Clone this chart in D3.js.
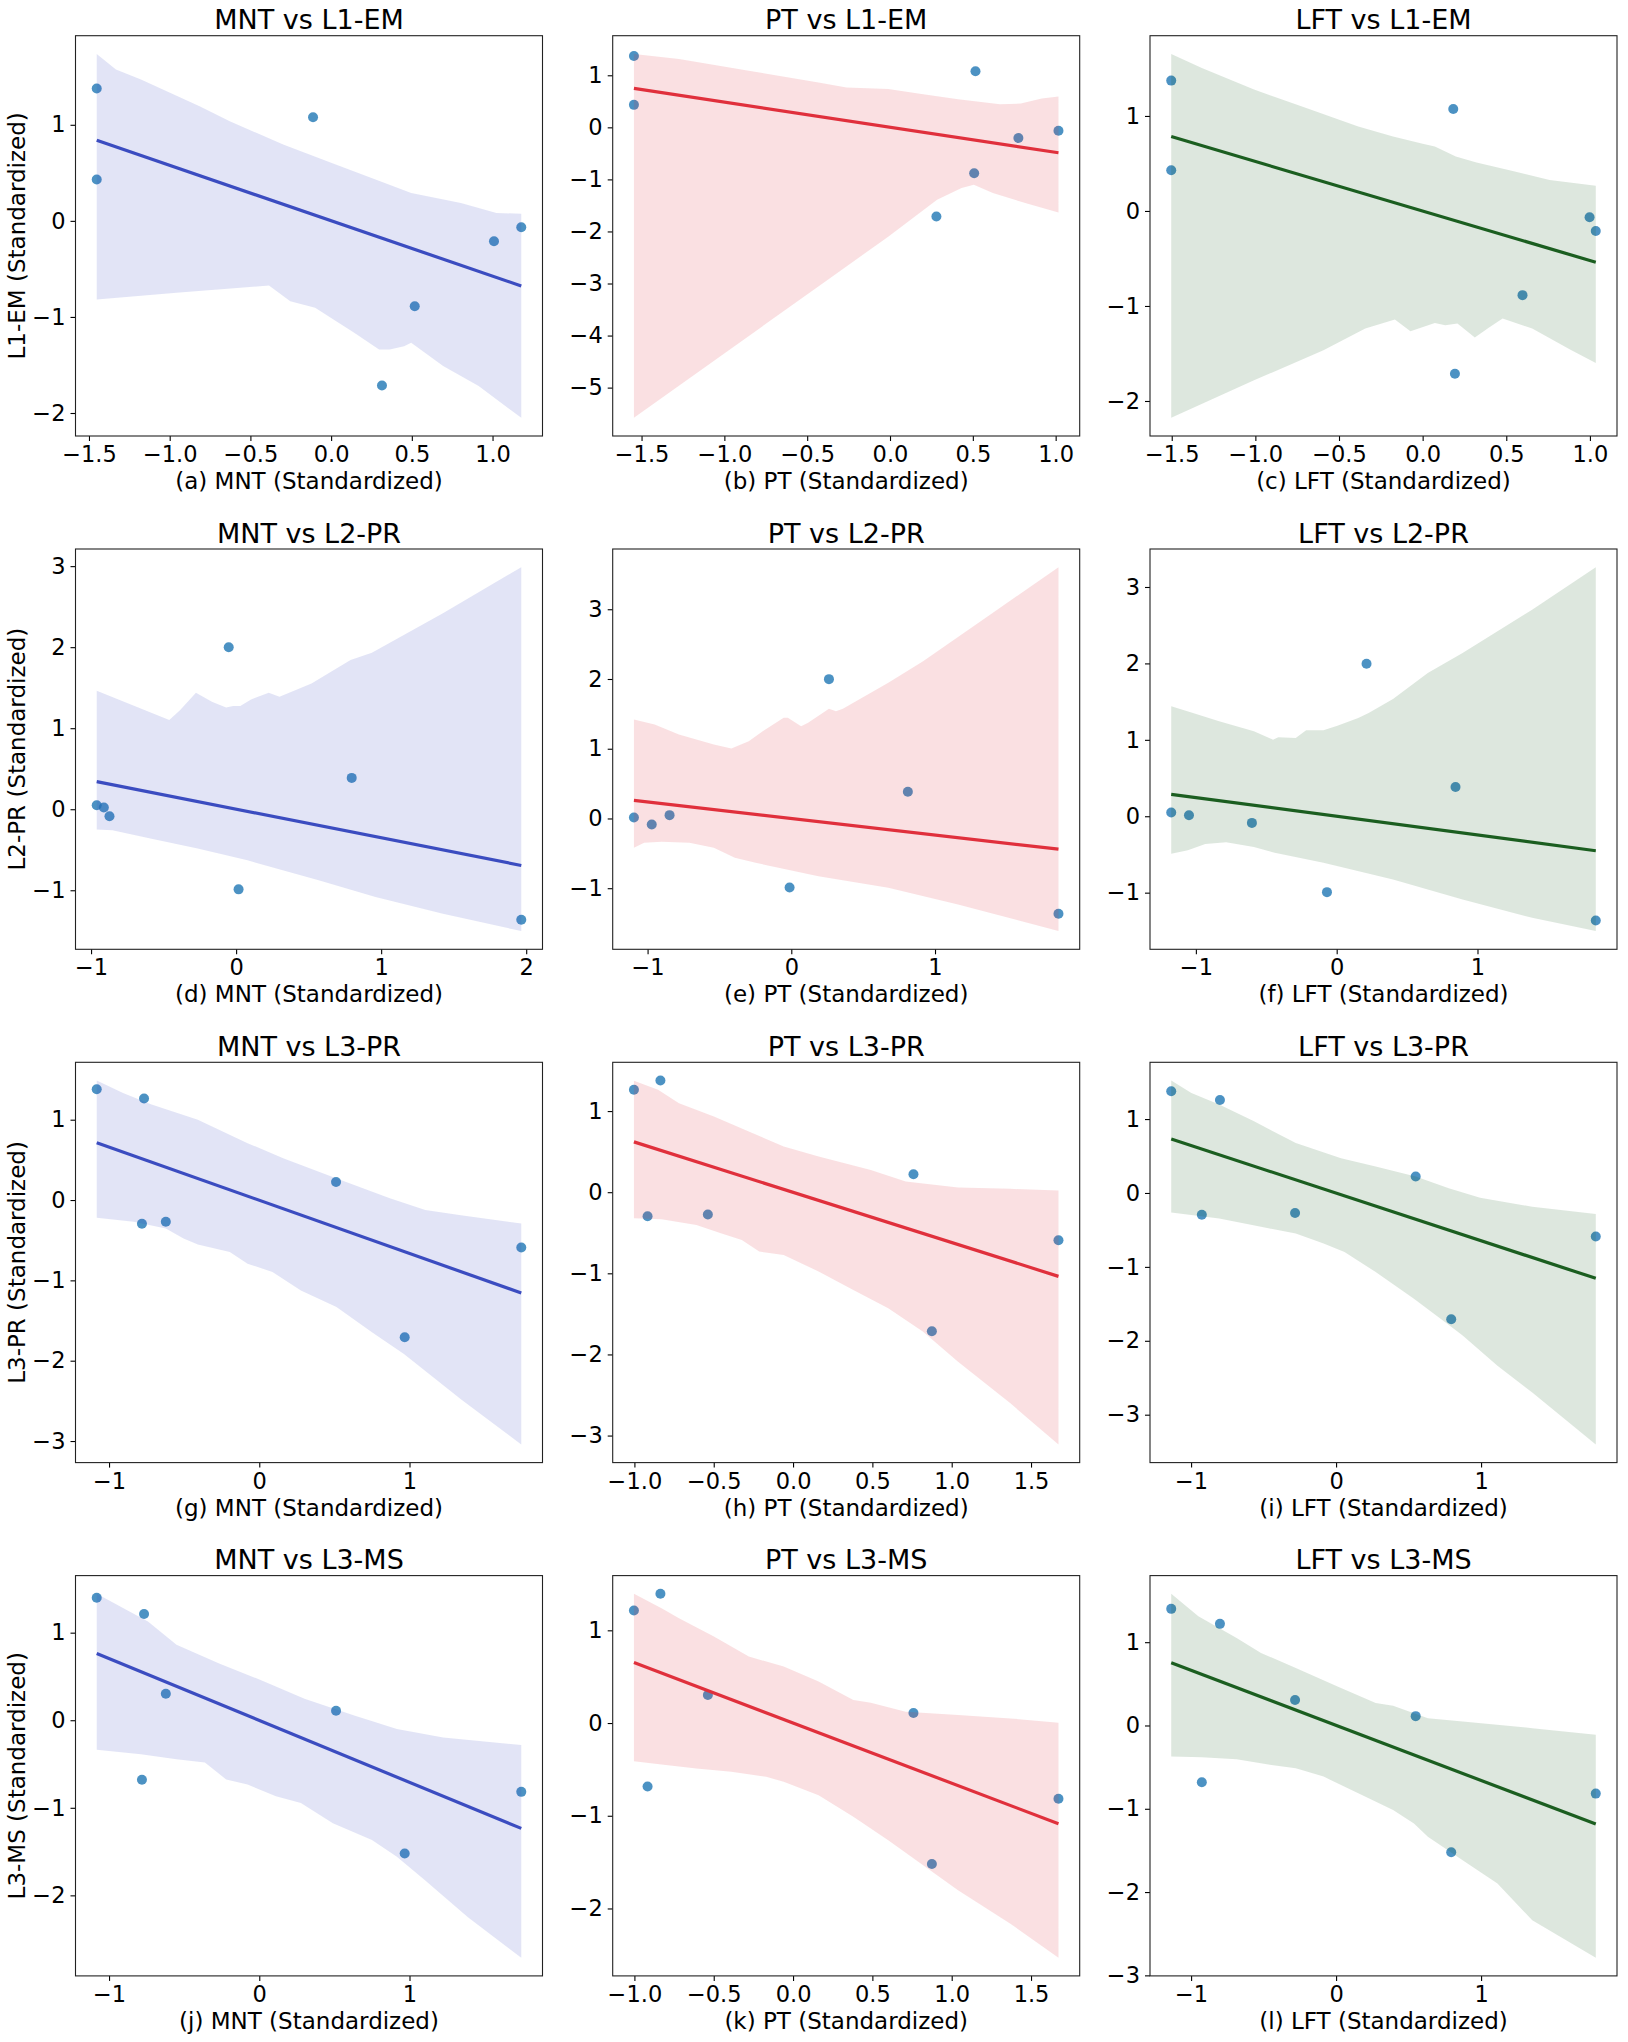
<!DOCTYPE html>
<html><head><meta charset="utf-8">
<script src="https://cdn.jsdelivr.net/npm/d3@7"></script>
<style>
body{margin:0;background:#fff}
svg{display:block}
text{font-family:"DejaVu Sans",sans-serif;fill:#000}
</style>
</head><body>
<svg id="chart" width="1628" height="2042"></svg>
<script>
// ---------- categories ----------
const xVars = ["MNT", "PT", "LFT"];
const yVars = ["L1-EM", "L2-PR", "L3-PR", "L3-MS"];
const letters = ["a","b","c","d","e","f","g","h","i","j","k","l"];
const lineColors = ["#3B4CC0", "#E0303C", "#1B5E20"];
const pointColor = "#1f77b4";

// ---------- scatter points (standardized), one list per panel a..l ----------
const pointX = [
  [-1.452, -1.452, -0.112, 0.315, 0.518, 1.009, 1.178],
  [-1.546, -1.546, 0.516, 0.280, 0.508, 0.775, 1.017],
  [-1.503, -1.503, 0.183, 0.193, 0.597, 0.998, 1.035],
  [-0.961, -0.912, -0.873, -0.051, 0.017, 0.797, 1.966],
  [-1.095, -0.971, -0.847, 0.262, -0.012, 0.811, 1.859],
  [-1.175, -1.049, -0.602, 0.212, -0.069, 0.844, 1.840],
  [-1.082, -0.767, -0.781, -0.622, 0.511, 0.968, 1.744],
  [-1.003, -0.836, -0.917, -0.537, 0.759, 0.875, 1.673],
  [-1.137, -0.801, -0.926, -0.283, 0.549, 0.794, 1.791],
  [-1.082, -0.767, -0.781, -0.622, 0.511, 0.968, 1.744],
  [-1.003, -0.836, -0.917, -0.537, 0.759, 0.875, 1.673],
  [-1.137, -0.801, -0.926, -0.283, 0.549, 0.794, 1.791]
];
const pointY = [
  [1.377, 0.430, 1.079, -1.713, -0.888, -0.212, -0.066],
  [1.372, 0.432, 1.076, -1.714, -0.883, -0.206, -0.064],
  [1.372, 0.429, 1.073, -1.713, -0.886, -0.067, -0.211],
  [0.049, 0.021, -0.087, 1.998, -0.989, 0.387, -1.364],
  [0.014, -0.086, 0.048, 1.998, -0.989, 0.382, -1.367],
  [0.048, 0.013, -0.087, 1.996, -0.993, 0.383, -1.364],
  [1.379, 1.263, -0.296, -0.271, 0.225, -1.708, -0.592],
  [1.262, 1.377, -0.296, -0.275, 0.222, -1.715, -0.592],
  [1.377, 1.259, -0.294, -0.272, 0.222, -1.708, -0.589],
  [1.398, 1.214, -0.680, 0.303, 0.108, -1.521, -0.818],
  [1.214, 1.394, -0.684, 0.302, 0.108, -1.520, -0.817],
  [1.400, 1.220, -0.682, 0.305, 0.112, -1.521, -0.818]
];

// ---------- bootstrap confidence band edges ----------
const bandHiX = [
  [-1.452, -1.333, -1.178, -0.815, -0.628, -0.297, 0, 0.275, 0.496, 0.804, 1.024, 1.178],
  [-1.546, -1.274, -0.853, -0.432, -0.263, -0.011, 0.200, 0.411, 0.664, 0.790, 0.916, 1.017],
  [-1.503, -1.320, -1.008, -0.696, -0.385, -0.177, 0, 0.073, 0.198, 0.322, 0.551, 0.759, 1.035],
  [-0.961, -0.461, -0.387, -0.277, -0.167, -0.069, -0.020, 0.029, 0.103, 0.225, 0.299, 0.520, 0.789, 0.936, 1.426, 1.966],
  [-1.095, -0.951, -0.782, -0.539, -0.417, -0.296, -0.199, -0.053, -0.024, 0.068, 0.117, 0.262, 0.311, 0.359, 0.675, 0.917, 1.403, 1.859],
  [-1.175, -1.032, -0.835, -0.588, -0.452, -0.415, -0.291, -0.217, -0.094, 0.005, 0.153, 0.227, 0.400, 0.647, 0.894, 1.388, 1.840],
  [-1.082, -0.907, -0.717, -0.409, -0.078, 0.159, 0.511, 0.869, 1.105, 1.342, 1.744],
  [-1.003, -0.851, -0.719, -0.499, -0.279, -0.059, 0.161, 0.490, 0.710, 1.040, 1.370, 1.673],
  [-1.137, -0.998, -0.806, -0.566, -0.278, 0.034, 0.273, 0.549, 0.777, 0.993, 1.353, 1.791],
  [-1.082, -0.907, -0.741, -0.551, -0.267, 0.040, 0.301, 0.632, 0.916, 1.224, 1.744],
  [-1.003, -0.829, -0.719, -0.499, -0.279, -0.059, 0.161, 0.380, 0.490, 0.710, 1.040, 1.370, 1.673],
  [-1.137, -0.950, -0.686, -0.518, -0.278, 0.010, 0.273, 0.393, 0.633, 0.873, 1.353, 1.791]
];
const bandHiY = [
  [1.738, 1.575, 1.471, 1.193, 1.037, 0.794, 0.604, 0.430, 0.291, 0.187, 0.083, 0.073],
  [1.411, 1.314, 1.089, 0.863, 0.767, 0.735, 0.638, 0.541, 0.445, 0.457, 0.554, 0.593],
  [1.653, 1.505, 1.277, 1.083, 0.890, 0.784, 0.707, 0.679, 0.573, 0.510, 0.415, 0.327, 0.264],
  [1.462, 1.100, 1.223, 1.438, 1.326, 1.256, 1.273, 1.273, 1.355, 1.438, 1.388, 1.553, 1.841, 1.932, 2.418, 2.987],
  [1.419, 1.348, 1.204, 1.061, 1.004, 1.109, 1.252, 1.443, 1.443, 1.324, 1.372, 1.572, 1.539, 1.572, 1.945, 2.256, 2.949, 3.603],
  [1.438, 1.359, 1.242, 1.111, 1.002, 1.033, 1.024, 1.124, 1.124, 1.185, 1.285, 1.351, 1.534, 1.874, 2.135, 2.702, 3.259],
  [1.488, 1.333, 1.188, 1.000, 0.708, 0.521, 0.271, 0.021, -0.125, -0.188, -0.292],
  [1.373, 1.262, 1.098, 0.933, 0.748, 0.563, 0.440, 0.275, 0.132, 0.058, 0.041, 0.021],
  [1.522, 1.354, 1.196, 0.969, 0.675, 0.471, 0.358, 0.222, 0.063, -0.063, -0.186, -0.285],
  [1.444, 1.283, 1.129, 0.861, 0.649, 0.438, 0.246, 0.054, -0.100, -0.196, -0.284],
  [1.394, 1.239, 1.131, 0.933, 0.717, 0.609, 0.447, 0.248, 0.220, 0.122, 0.086, 0.050, 0.004],
  [1.581, 1.312, 1.051, 0.871, 0.690, 0.469, 0.269, 0.237, 0.088, 0.048, -0.032, -0.112]
];
const bandLoX = [
  [-1.452, -0.958, -0.385, -0.253, -0.099, 0.143, 0.297, 0.363, 0.452, 0.496, 0.694, 0.914, 1.178],
  [-1.546, -0.369, -0.011, 0.284, 0.432, 0.506, 0.621, 0.832, 1.017],
  [-1.503, -1.008, -0.593, -0.343, -0.166, -0.073, 0.073, 0.135, 0.208, 0.312, 0.395, 0.478, 0.655, 0.884, 1.035],
  [-0.961, -0.853, -0.583, -0.265, 0.078, 0.569, 0.961, 1.426, 1.966],
  [-1.095, -1.024, -0.903, -0.709, -0.539, -0.393, -0.248, 0.189, 0.675, 1.160, 1.859],
  [-1.175, -1.057, -0.933, -0.785, -0.588, -0.440, -0.094, 0.400, 0.894, 1.388, 1.840],
  [-1.082, -0.836, -0.622, -0.504, -0.409, -0.196, -0.078, 0.088, 0.277, 0.514, 0.750, 0.963, 1.342, 1.744],
  [-1.003, -0.829, -0.609, -0.455, -0.323, -0.213, -0.059, 0.161, 0.380, 0.600, 0.820, 1.040, 1.370, 1.673],
  [-1.137, -0.806, -0.518, -0.278, -0.086, 0.058, 0.273, 0.537, 0.753, 0.873, 1.113, 1.353, 1.791],
  [-1.082, -0.788, -0.551, -0.362, -0.220, -0.078, 0.111, 0.277, 0.490, 0.750, 0.916, 1.105, 1.389, 1.744],
  [-1.003, -0.829, -0.609, -0.389, -0.169, -0.059, 0.161, 0.380, 0.600, 0.820, 1.040, 1.370, 1.673],
  [-1.137, -0.926, -0.686, -0.446, -0.278, -0.086, 0.153, 0.393, 0.537, 0.633, 0.873, 1.113, 1.353, 1.791]
];
const bandLoY = [
  [-0.819, -0.749, -0.673, -0.836, -0.905, -1.165, -1.339, -1.339, -1.304, -1.270, -1.512, -1.720, -2.050],
  [-5.580, -2.912, -2.101, -1.392, -1.166, -1.102, -1.263, -1.469, -1.637],
  [-2.177, -1.783, -1.467, -1.238, -1.143, -1.266, -1.178, -1.203, -1.185, -1.333, -1.228, -1.133, -1.238, -1.460, -1.600],
  [-0.251, -0.260, -0.363, -0.486, -0.630, -0.877, -1.083, -1.289, -1.504],
  [-0.421, -0.349, -0.335, -0.349, -0.421, -0.564, -0.636, -0.827, -0.994, -1.233, -1.615],
  [-0.492, -0.444, -0.362, -0.340, -0.401, -0.479, -0.610, -0.828, -1.089, -1.329, -1.503],
  [-0.221, -0.271, -0.354, -0.479, -0.554, -0.646, -0.792, -0.896, -1.125, -1.333, -1.646, -1.917, -2.479, -3.042],
  [-0.321, -0.333, -0.403, -0.506, -0.588, -0.732, -0.773, -0.979, -1.205, -1.431, -1.719, -2.089, -2.603, -3.109],
  [-0.263, -0.344, -0.458, -0.548, -0.684, -0.797, -1.069, -1.431, -1.749, -1.930, -2.337, -2.700, -3.402],
  [-0.338, -0.388, -0.446, -0.484, -0.676, -0.734, -0.868, -0.945, -1.176, -1.368, -1.560, -1.829, -2.251, -2.712],
  [-0.411, -0.447, -0.490, -0.526, -0.580, -0.634, -0.778, -1.012, -1.264, -1.534, -1.804, -2.164, -2.531],
  [-0.373, -0.381, -0.405, -0.473, -0.514, -0.614, -0.814, -1.015, -1.176, -1.336, -1.617, -1.898, -2.339, -2.788]
];

// ---------- tick values ----------
const xTicks = [
  [-1.5, -1.0, -0.5, 0.0, 0.5, 1.0],
  [-1.5, -1.0, -0.5, 0.0, 0.5, 1.0],
  [-1.5, -1.0, -0.5, 0.0, 0.5, 1.0],
  [-1, 0, 1, 2],
  [-1, 0, 1],
  [-1, 0, 1],
  [-1, 0, 1],
  [-1.0, -0.5, 0.0, 0.5, 1.0, 1.5],
  [-1, 0, 1],
  [-1, 0, 1],
  [-1.0, -0.5, 0.0, 0.5, 1.0, 1.5],
  [-1, 0, 1]
];
const yTicks = [
  [-2, -1, 0, 1],
  [-5, -4, -3, -2, -1, 0, 1],
  [-2, -1, 0, 1],
  [-1, 0, 1, 2, 3],
  [-1, 0, 1, 2, 3],
  [-1, 0, 1, 2, 3],
  [-3, -2, -1, 0, 1],
  [-3, -2, -1, 0, 1],
  [-3, -2, -1, 0, 1],
  [-2, -1, 0, 1],
  [-2, -1, 0, 1],
  [-3, -2, -1, 0, 1]
];

// ---------- layout ----------
const colLeft = [75.5, 612.7, 1150];
const panelW = 467;
const rowTop0 = 35.7, rowStep = 513.3, panelH = 400.3;

const svg = d3.select("#chart");
const minus = s => s.replace(/-/g, "\u2212");

function fmtFor(ticks) {
  const dec = ticks.some(t => Math.abs(t - Math.round(t)) > 1e-9);
  const f = dec ? d3.format(".1f") : d3.format("d");
  return v => minus(f(v));
}

function pad(ext) {
  const s = ext[1] - ext[0];
  return [ext[0] - 0.05 * s, ext[1] + 0.05 * s];
}

for (let p = 0; p < 12; p++) {
  const r = Math.floor(p / 3), c = p % 3;
  const left = colLeft[c], top = rowTop0 + r * rowStep;
  const color = lineColors[c];
  const pts = pointX[p].map((x, i) => ({x, y: pointY[p][i]}));
  const hi = bandHiX[p].map((x, i) => ({x, y: bandHiY[p][i]}));
  const lo = bandLoX[p].map((x, i) => ({x, y: bandLoY[p][i]}));

  const xExt = d3.extent(pointX[p]);
  const allY = pointY[p].concat(bandHiY[p], bandLoY[p]);
  const xs = d3.scaleLinear().domain(pad(xExt)).range([0, panelW]);
  const ys = d3.scaleLinear().domain(pad(d3.extent(allY))).range([panelH, 0]);

  // OLS fit through the points
  const mx = d3.mean(pointX[p]), my = d3.mean(pointY[p]);
  const sxy = d3.sum(pts, d => (d.x - mx) * (d.y - my));
  const sxx = d3.sum(pts, d => (d.x - mx) * (d.x - mx));
  const slope = sxy / sxx, icpt = my - slope * mx;
  const fit = xExt.map(x => ({x, y: icpt + slope * x}));

  const g = svg.append("g").attr("transform", `translate(${left},${top})`);

  // scatter
  g.append("g").selectAll("circle").data(pts).join("circle")
    .attr("cx", d => xs(d.x)).attr("cy", d => ys(d.y)).attr("r", 5)
    .attr("fill", pointColor).attr("fill-opacity", 0.8);

  // CI band
  const poly = hi.concat(lo.slice().reverse());
  g.append("path")
    .attr("d", d3.line().x(d => xs(d.x)).y(d => ys(d.y))(poly) + "Z")
    .attr("fill", color).attr("fill-opacity", 0.15).attr("stroke", "none");

  // regression line
  g.append("path")
    .attr("d", d3.line().x(d => xs(d.x)).y(d => ys(d.y))(fit))
    .attr("fill", "none").attr("stroke", color).attr("stroke-width", 3.2);

  // axes
  const ax = g.append("g").attr("transform", `translate(0,${panelH})`)
    .call(d3.axisBottom(xs).tickValues(xTicks[p]).tickSize(5).tickPadding(5).tickFormat(fmtFor(xTicks[p])));
  const ay = g.append("g")
    .call(d3.axisLeft(ys).tickValues(yTicks[p]).tickSize(5).tickPadding(5).tickFormat(fmtFor(yTicks[p])));
  [ax, ay].forEach(a => {
    a.select(".domain").remove();
    a.selectAll(".tick line").attr("stroke", "#000").attr("stroke-width", 1.1);
    a.selectAll(".tick text").style("font-size", "22.5px").attr("fill", "#000")
      .style("font-family", '"DejaVu Sans", sans-serif');
  });

  // frame
  g.append("rect").attr("x", 0).attr("y", 0).attr("width", panelW).attr("height", panelH)
    .attr("fill", "none").attr("stroke", "#222").attr("stroke-width", 1.1);

  // title
  g.append("text").attr("x", panelW / 2).attr("y", -6.5).attr("text-anchor", "middle")
    .style("font-size", "27px").text(`${xVars[c]} vs ${yVars[r]}`);

  // x label
  g.append("text").attr("x", panelW / 2).attr("y", panelH + 53).attr("text-anchor", "middle")
    .style("font-size", "23px").text(`(${letters[p]}) ${xVars[c]} (Standardized)`);

  // y label (first column only)
  if (c === 0) {
    g.append("text").attr("transform", `translate(-51,${panelH / 2}) rotate(-90)`)
      .attr("text-anchor", "middle").style("font-size", "23px")
      .text(`${yVars[r]} (Standardized)`);
  }
}
</script>
</body></html>
